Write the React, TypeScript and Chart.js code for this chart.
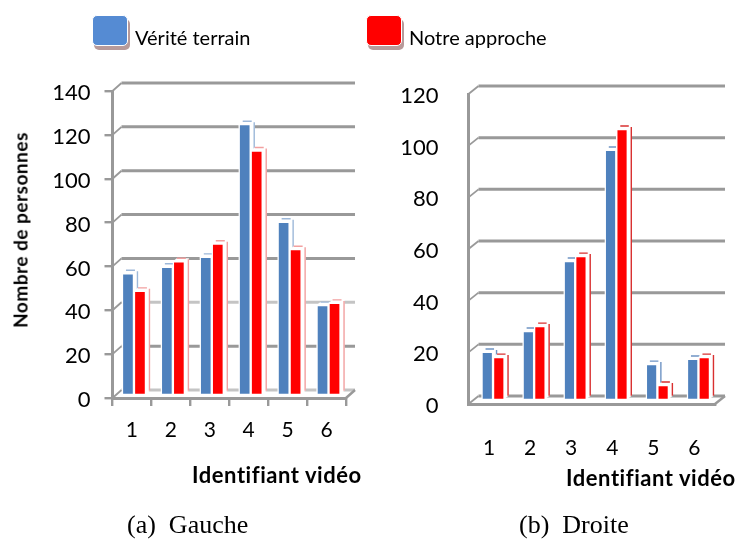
import React, { useEffect, useRef } from "react";
import { Chart, registerables } from "chart.js";

Chart.register(...registerables);

const categories = ["1", "2", "3", "4", "5", "6"];
const seriesNames = ["Vérité terrain", "Notre approche"];
const gaucheVerite = [55.5, 58.5, 63, 123.5, 79, 41];
const gaucheApproche = [47.5, 61, 69, 111.5, 66.5, 42];
const droiteVerite = [18.6, 26.7, 53.8, 96.8, 13.9, 15.9];
const droiteApproche = [16.6, 28.6, 55.7, 104.9, 5.8, 16.6];
const axisTitleY = "Nombre de personnes";
const axisTitleX = "Identifiant vidéo";

const BLUE = "#4F81BD";
const RED = "#FF0000";
const GREY = "#999999";
const FONT = "Lato, 'Open Sans', sans-serif";

type Panel = {
  a: number[]; b: number[]; max: number; step: number;
  left: number; right: number; top: number; bottom: number;
  tick: number; pad: number; xPad: number; barT: number;
  shift: [number, number]; back: [number, number];
  light: number[]; stripeA: string; stripeB: string;
};

const panels: Panel[] = [
  {
    a: gaucheVerite, b: gaucheApproche, max: 140, step: 20,
    left: 112.5, right: 346, top: 91, bottom: 398,
    tick: 8, pad: 14, xPad: 12, barT: 12,
    shift: [2, -3], back: [9, -8], light: [0, 40],
    stripeA: "#9DB8D9", stripeB: "#F2A0A0",
  },
  {
    a: droiteVerite, b: droiteApproche, max: 120, step: 20,
    left: 468.5, right: 715, top: 94, bottom: 404,
    tick: 0, pad: 30, xPad: 32, barT: 11.5,
    shift: [4, -4], back: [10, -8], light: [],
    stripeA: "#6F94C4", stripeB: "#D93030",
  },
];

const depthPlugin = {
  id: "depth",
  beforeDatasetsDraw(chart: any, _args: any, opts: any) {
    const { ctx, scales } = chart;
    const y = scales.y;
    const x = scales.x;
    const [bx, by] = opts.back;
    const [sx, sy] = opts.shift;
    ctx.save();
    // back wall gridlines and the stubs that join them to the axis
    y.ticks.forEach((t: any) => {
      const py = y.getPixelForValue(t.value);
      ctx.strokeStyle = opts.light.includes(t.value) ? "#C4C4C4" : GREY;
      ctx.lineWidth = 3;
      ctx.beginPath();
      ctx.moveTo(x.left + bx, py + by);
      ctx.lineTo(x.right + bx, py + by);
      ctx.stroke();
      ctx.strokeStyle = GREY;
      ctx.lineWidth = 1.8;
      ctx.beginPath();
      ctx.moveTo(x.left, py);
      ctx.lineTo(x.left + bx, py + by);
      ctx.stroke();
    });
    ctx.lineWidth = 2.4;
    ctx.beginPath();
    ctx.moveTo(x.right, y.bottom);
    ctx.lineTo(x.right + bx, y.bottom + by);
    ctx.stroke();
    // side and top faces of the bars
    const dx = 4;
    const dy = 3;
    ctx.translate(sx, sy);
    [0, 1].forEach((di) => {
      const stripe = di === 0 ? opts.stripeA : opts.stripeB;
      chart.getDatasetMeta(di).data.forEach((el: any) => {
        const l = el.x - el.width / 2;
        const r = el.x + el.width / 2;
        ctx.fillStyle = "#FFFFFF";
        ctx.beginPath();
        ctx.moveTo(l, el.y);
        ctx.lineTo(l + dx, el.y - dy);
        ctx.lineTo(r + dx, el.y - dy);
        ctx.lineTo(r + dx, el.base - dy);
        ctx.lineTo(r, el.base);
        ctx.closePath();
        ctx.fill();
        ctx.strokeStyle = stripe;
        ctx.lineWidth = 1.4;
        ctx.beginPath();
        ctx.moveTo(l + dx, el.y - dy);
        ctx.lineTo(r + dx - 3, el.y - dy);
        ctx.moveTo(r + dx - 0.5, el.y - dy + 1);
        ctx.lineTo(r + dx - 0.5, el.base - dy);
        ctx.stroke();
      });
    });
    ctx.restore();
    ctx.save();
    ctx.translate(sx, sy);
  },
  afterDatasetsDraw(chart: any) {
    chart.ctx.restore();
  },
};

function PanelChart({ p }: { p: Panel }) {
  const ref = useRef<HTMLCanvasElement>(null);
  useEffect(() => {
    const chart = new Chart(ref.current as HTMLCanvasElement, {
      type: "bar",
      data: {
        labels: categories,
        datasets: [
          { label: seriesNames[0], data: p.a, backgroundColor: BLUE, borderColor: "#FFFFFF", borderWidth: 1.5, barThickness: p.barT },
          { label: seriesNames[1], data: p.b, backgroundColor: RED, borderColor: "#FFFFFF", borderWidth: 1.5, barThickness: p.barT },
        ],
      },
      options: {
        responsive: false,
        animation: false,
        layout: { padding: { left: 0, top: p.top, right: 736 - p.right, bottom: 0 } },
        plugins: {
          legend: { display: false },
          tooltip: { enabled: false },
          depth: { back: p.back, shift: p.shift, light: p.light, stripeA: p.stripeA, stripeB: p.stripeB },
        } as any,
        scales: {
          x: {
            afterFit: (s: any) => { s.height = 541 - p.bottom; },
            grid: { drawOnChartArea: false, drawTicks: p.tick > 0, tickLength: p.tick, color: GREY, lineWidth: 2.4 },
            border: { display: true, color: GREY, width: 3 },
            ticks: { color: "#000", font: { family: FONT, size: 21 }, padding: p.xPad, maxRotation: 0 },
          },
          y: {
            min: 0, max: p.max,
            afterFit: (s: any) => { s.width = p.left; },
            grid: { drawOnChartArea: false, drawTicks: p.tick > 0, tickLength: p.tick, color: GREY, lineWidth: 2.4 },
            border: { display: true, color: GREY, width: 3 },
            ticks: { stepSize: p.step, color: "#000", font: { family: FONT, size: 22 }, padding: p.pad, labelOffset: 2 },
          },
        },
      },
      plugins: [depthPlugin],
    } as any);
    return () => chart.destroy();
  }, [p]);
  return (
    <canvas
      ref={ref}
      width={736}
      height={541}
      style={{ position: "absolute", left: 0, top: 0, display: "block", filter: "blur(0.5px)" }}
    />
  );
}

const text = (s: React.CSSProperties): React.CSSProperties => ({
  position: "absolute", whiteSpace: "nowrap", color: "#000", lineHeight: 1, fontFamily: FONT, ...s,
});

function Swatch({ left, color }: { left: number; color: string }) {
  return (
    <div style={{
      position: "absolute", left, top: 15, width: 34, height: 29, background: color,
      border: "1px solid #fff", borderRadius: 5, boxShadow: "2px 4px 0 #B79A9A",
    }} />
  );
}

export default function App() {
  return (
    <div style={{ position: "absolute", left: 0, top: 0, width: 736, height: 541, overflow: "hidden", background: "#fff" }}>
      {panels.map((p, i) => <PanelChart key={i} p={p} />)}
      <Swatch left={92} color="#558BD3" />
      <Swatch left={366} color={RED} />
      <div style={text({ left: 135, top: 27, fontSize: 20 })}>{seriesNames[0]}</div>
      <div style={text({ left: 409, top: 27, fontSize: 20 })}>{seriesNames[1]}</div>
      <div style={text({ left: 192, top: 464, fontSize: 22, letterSpacing: 0.55, fontWeight: 700 })}>{axisTitleX}</div>
      <div style={text({ left: 566, top: 467, fontSize: 22, letterSpacing: 0.55, fontWeight: 700 })}>{axisTitleX}</div>
      <div style={text({ left: 20, top: 230, fontSize: 19, letterSpacing: 0.5, fontWeight: 700, transform: "translate(-50%,-50%) rotate(-90deg)" })}>{axisTitleY}</div>
      <div style={text({ left: 127, top: 512, fontSize: 26, fontFamily: "'Liberation Serif', serif", whiteSpace: "pre" })}>{"(a)  Gauche"}</div>
      <div style={text({ left: 519, top: 512, fontSize: 26, fontFamily: "'Liberation Serif', serif", whiteSpace: "pre" })}>{"(b)  Droite"}</div>
    </div>
  );
}
